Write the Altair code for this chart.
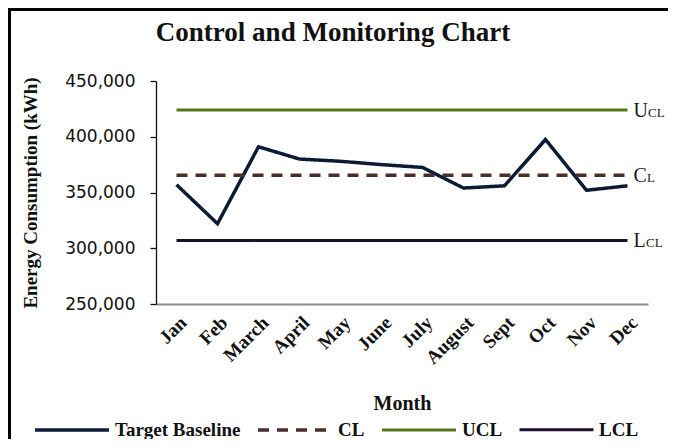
import altair as alt
import pandas as pd

# ---- data ----
months = ["Jan", "Feb", "March", "April", "May", "June", "July",
          "August", "Sept", "Oct", "Nov", "Dec"]
baseline = [357000, 322000, 391000, 380000, 378000, 375000, 372500,
            354000, 356000, 397500, 352000, 356000]
ucl_value = 424000
cl_value = 365500
lcl_value = 307000

series_names = ["Target Baseline", "CL", "UCL", "LCL"]
series_colors = ["#0c1b35", "#4a2e2a", "#56761c", "#1b0f2a"]
series_dash = [[1, 0], [11, 8], [1, 0], [1, 0]]
series_widths = [3.5, 3, 3.5, 4.5]
y_ticks = [250000, 300000, 350000, 400000, 450000]

label_series = ["UCL", "CL", "LCL"]
label_values = [ucl_value, cl_value, lcl_value]
label_big = ["U", "C", "L"]
label_small = ["CL", "L", "CL"]
label_big_width = [14.5, 13.5, 12.5]

chart_title = "Control and Monitoring Chart"

# ---- tables ----
rows = []
for m, v in zip(months, baseline):
    rows.append({"month": m, "value": v, "series": "Target Baseline"})
for name, val in [("CL", cl_value), ("UCL", ucl_value), ("LCL", lcl_value)]:
    for m in months:
        rows.append({"month": m, "value": val, "series": name})
df = pd.DataFrame(rows)

lab_df = pd.DataFrame({
    "series": label_series,
    "value": label_values,
    "big": label_big,
    "small": label_small,
    "month": ["Dec"] * 3,
})

W, H = 492, 223
PAD = {"left": 148, "top": 73, "right": 21, "bottom": 135}

serif = "Liberation Serif"

x_enc = alt.X(
    "month:N", sort=months,
    scale=alt.Scale(type="point", padding=0.5),
    axis=alt.Axis(
        title="Month", labelAngle=-45, labelFont=serif, labelFontWeight="bold",
        labelFontSize=19, labelColor="#111111", labelPadding=9, ticks=False,
        domainColor="#8c8c8c", domainWidth=2,
        titleFont=serif, titleFontWeight="bold", titleFontSize=20,
        titleColor="#111111", titleX=W / 2, titleY=99,
        titleAlign="center", titleBaseline="middle",
    ),
)
y_enc = alt.Y(
    "value:Q",
    scale=alt.Scale(domain=[250000, 450000], nice=False, zero=False),
    axis=alt.Axis(
        values=y_ticks, format=",.0f", grid=False,
        domainColor="#111111", domainWidth=1.3, tickColor="#111111",
        tickSize=6, tickWidth=1.3,
        labelFont="DejaVu Sans", labelFontSize=17, labelColor="#111111",
        labelPadding=15,
        title="Energy  Consumption  (kWh)", titleFont=serif,
        titleFontWeight="bold", titleFontSize=19, titleColor="#111111",
        titleAngle=-90, titleX=-126, titleY=H / 2,
        titleAlign="center", titleBaseline="middle",
    ),
)

lines = alt.Chart(df).mark_line(strokeCap="butt").encode(
    x=x_enc,
    y=y_enc,
    color=alt.Color("series:N",
                    scale=alt.Scale(domain=series_names, range=series_colors),
                    legend=alt.Legend(title=None)),
    strokeDash=alt.StrokeDash("series:N",
                              scale=alt.Scale(domain=series_names, range=series_dash),
                              legend=alt.Legend(title=None)),
    strokeWidth=alt.StrokeWidth("series:N",
                                scale=alt.Scale(domain=series_names, range=series_widths),
                                legend=None),
)

big_text = alt.Chart(lab_df).mark_text(
    align="left", baseline="alphabetic", dx=6, dy=7,
    font=serif, fontSize=20, color="#1a1a1a"
).encode(
    x=alt.X("month:N", sort=months),
    y=alt.Y("value:Q"),
    text="big:N",
)

small_layers = []
for s, w in zip(label_series, label_big_width):
    small_layers.append(
        alt.Chart(lab_df).transform_filter(alt.datum.series == s).mark_text(
            align="left", baseline="alphabetic", dx=6 + w, dy=7,
            font=serif, fontSize=13, color="#1a1a1a"
        ).encode(
            x=alt.X("month:N", sort=months),
            y=alt.Y("value:Q"),
            text="small:N",
        )
    )

one = pd.DataFrame({"k": [0]})
title_layer = alt.Chart(one).mark_text(
    align="center", baseline="alphabetic", font=serif, fontSize=27,
    fontWeight="bold", color="#111111", text=chart_title
).encode(x=alt.value(177), y=alt.value(-40))

frame_top = alt.Chart(one).mark_rect(color="#000000").encode(
    x=alt.value(-PAD["left"]), x2=alt.value(W + PAD["right"] - 1),
    y=alt.value(-PAD["top"]), y2=alt.value(-PAD["top"] + 3),
)
frame_left = alt.Chart(one).mark_rect(color="#000000").encode(
    x=alt.value(-PAD["left"]), x2=alt.value(-PAD["left"] + 3),
    y=alt.value(-PAD["top"]), y2=alt.value(H + PAD["bottom"]),
)

chart = alt.layer(
    frame_top, frame_left, title_layer, lines, big_text, *small_layers
).properties(
    width=W, height=H,
    padding=PAD,
    autosize=alt.AutoSizeParams(type="none"),
    background="white",
).configure_view(
    stroke=None
).configure_legend(
    orient="none", legendX=-123, legendY=310, direction="horizontal",
    symbolType="stroke", symbolSize=5476, symbolStrokeWidth=4,
    labelFont=serif, labelFontWeight="bold", labelFontSize=19,
    labelColor="#111111", labelOffset=4, columnPadding=10, padding=0,
    labelLimit=300,
)

chart.save("out.html", embed_options={"renderer": "svg", "actions": False})
